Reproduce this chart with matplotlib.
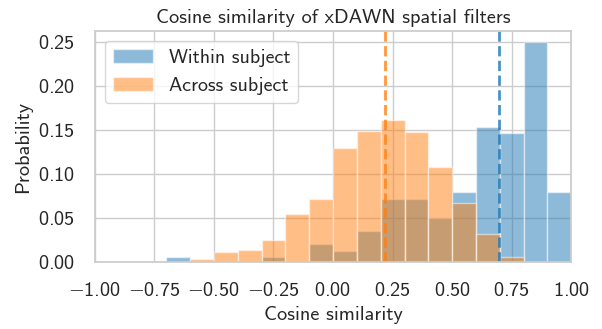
import matplotlib
matplotlib.use("Agg")
import matplotlib.pyplot as plt
import matplotlib.ticker as mticker
import seaborn as sns
import numpy as np

sns.set_theme(style="whitegrid")
plt.rcParams['font.family'] = ['cmss10', 'DejaVu Sans']
plt.rcParams['mathtext.fontset'] = 'custom'
plt.rcParams['mathtext.rm'] = 'cmss10'
plt.rcParams['mathtext.sf'] = 'cmss10'
plt.rcParams['mathtext.fallback'] = 'cm'

# histogram bins (width 0.1 from -1 to 1)
bin_edges = np.linspace(-1, 1, 21)

# probabilities per bin
within = [0, 0, 0, 0.006, 0, 0, 0, 0.006, 0, 0.020,
          0.013, 0.035, 0.072, 0.072, 0.050, 0.079, 0.153, 0.146, 0.249, 0.079]
across = [0, 0, 0, 0, 0.003, 0.011, 0.014, 0.025, 0.055, 0.071,
          0.129, 0.149, 0.161, 0.147, 0.108, 0.0665, 0.032, 0.006, 0, 0]

within_mean = 0.696
across_mean = 0.219

blue = "tab:blue"
orange = "tab:orange"
fs = 14.6

fig = plt.figure(figsize=(6.02, 3.29), dpi=100)
ax = fig.add_axes([0.1575, 0.2036, 0.7915, 0.701])

ax.bar(bin_edges[:-1], within, width=0.1, align="edge", color=blue,
       alpha=0.5, edgecolor="white", linewidth=1, label="Within subject")
ax.bar(bin_edges[:-1], across, width=0.1, align="edge", color=orange,
       alpha=0.5, edgecolor="white", linewidth=1, label="Across subject")

ax.axvline(within_mean, color=blue, linestyle="--", linewidth=2, alpha=0.8)
ax.axvline(across_mean, color=orange, linestyle="--", linewidth=2, alpha=0.8)

ax.set_xlim(-1, 1)
ax.set_ylim(0, 0.2615)
ax.set_xticks(np.arange(-1, 1.01, 0.25))
ax.set_yticks(np.arange(0, 0.26, 0.05))
fmt = mticker.FuncFormatter(lambda v, p: r"$\mathrm{%.2f}$" % v)
ax.xaxis.set_major_formatter(fmt)
ax.yaxis.set_major_formatter(fmt)

ax.set_title("Cosine similarity of xDAWN spatial filters", fontsize=fs)
ax.set_xlabel("Cosine similarity", fontsize=fs)
ax.set_ylabel("Probability", fontsize=fs)
ax.tick_params(axis="both", labelsize=fs, pad=8.5)
ax.legend(loc="upper left", fontsize=14.4)

fig.savefig("out.png", dpi=100)
